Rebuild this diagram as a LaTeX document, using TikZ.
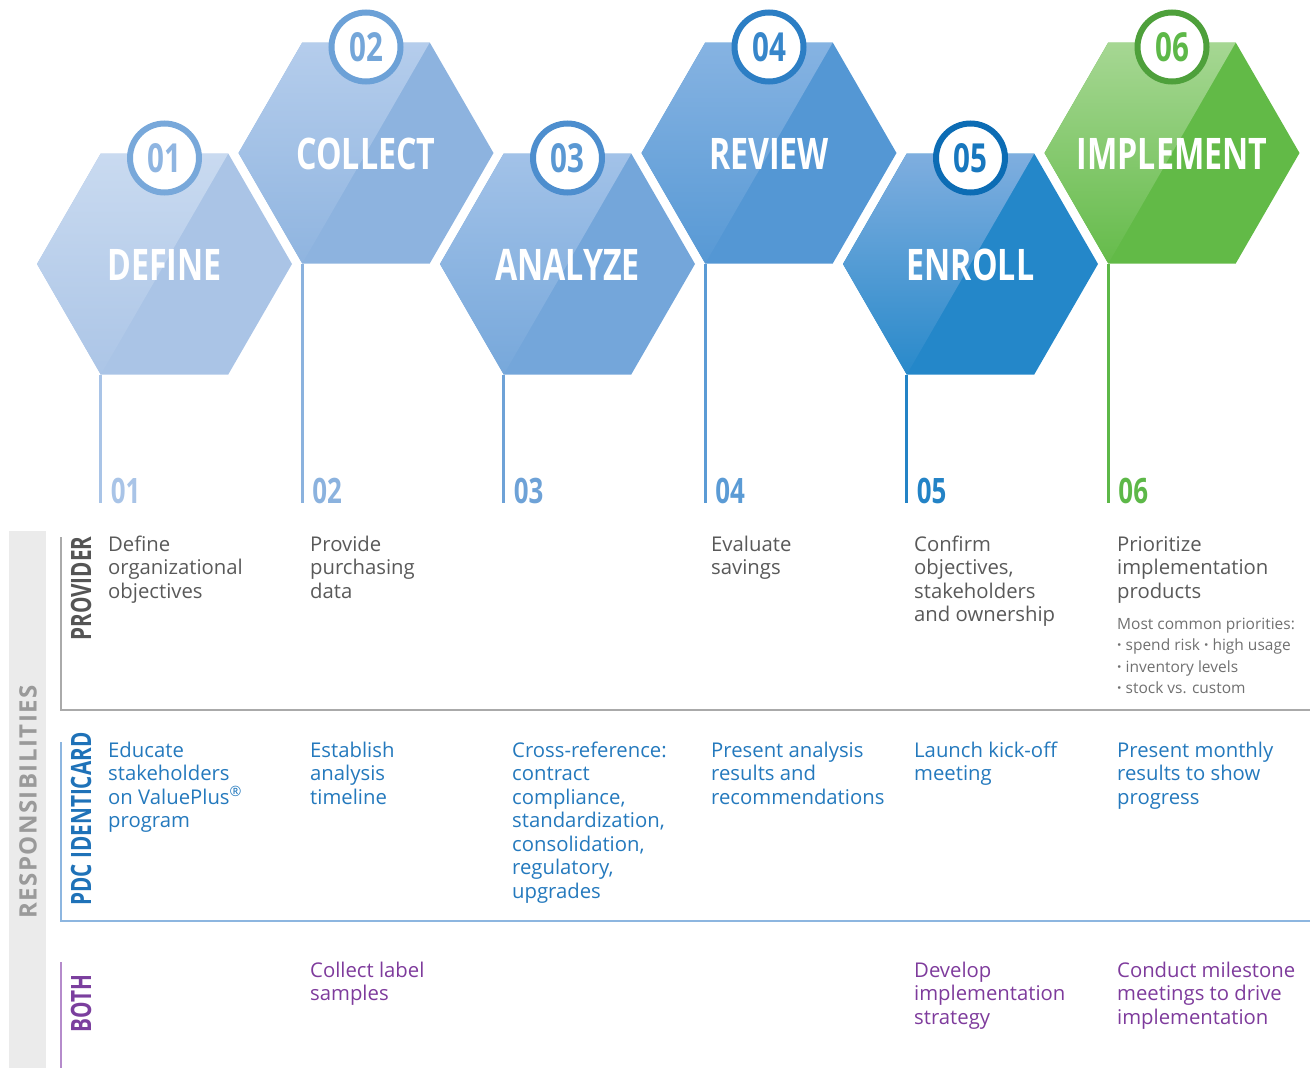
\documentclass[tikz,border=0pt]{standalone}
\usepackage{fontspec}
\setmainfont{Open Sans}
\newfontfamily\condb{Open Sans}[FakeStretch=0.74]
\newfontfamily\spacedf{Open Sans}[LetterSpace=6]
\definecolor{baseA}{HTML}{AAC4E6}\definecolor{hlA}{HTML}{C9DAF0}
\definecolor{baseB}{HTML}{8DB3DF}\definecolor{hlB}{HTML}{B5CDEC}
\definecolor{baseC}{HTML}{74A6DA}\definecolor{hlC}{HTML}{A2C2E8}
\definecolor{baseD}{HTML}{5497D4}\definecolor{hlD}{HTML}{86B3E2}
\definecolor{baseE}{HTML}{2487C9}\definecolor{hlE}{HTML}{7FAEDF}
\definecolor{baseF}{HTML}{62BA47}\definecolor{hlF}{HTML}{A6D793}
\definecolor{ringA}{HTML}{78A8DA}\definecolor{digA}{HTML}{8FB5E1}
\definecolor{ringB}{HTML}{6CA1D7}\definecolor{digB}{HTML}{74A6D9}
\definecolor{ringC}{HTML}{4D8ECE}\definecolor{digC}{HTML}{5A98D3}
\definecolor{ringD}{HTML}{2C7EC4}\definecolor{digD}{HTML}{3786CA}
\definecolor{ringE}{HTML}{0C6CB4}\definecolor{digE}{HTML}{1777BE}
\definecolor{ringF}{HTML}{4EA03B}\definecolor{digF}{HTML}{5DB848}
\definecolor{lineA}{HTML}{A9C4E7}\definecolor{lineB}{HTML}{8BB2DE}
\definecolor{lineC}{HTML}{6EA2D7}\definecolor{lineD}{HTML}{5B9BD5}
\definecolor{lineE}{HTML}{2383C6}\definecolor{lineF}{HTML}{5DB848}
\definecolor{txtgray}{HTML}{595959}
\definecolor{txtsmall}{HTML}{707070}
\definecolor{txtblue}{HTML}{2479BD}
\definecolor{txtpurple}{HTML}{7E3B9C}
\definecolor{bandgray}{HTML}{EBEBEB}
\definecolor{respgray}{HTML}{9A9A9A}
\definecolor{provline}{HTML}{AAAAAA}
\definecolor{pdcline}{HTML}{8DB6E0}
\definecolor{bothline}{HTML}{B58BCB}
\definecolor{provlab}{HTML}{555555}
\definecolor{pdclab}{HTML}{1F72B8}
\definecolor{bothlab}{HTML}{7B3F9E}
\tikzset{
  hexlabel/.style={text=white, font=\condb\bfseries\fontsize{43.5}{43.5}\selectfont, inner sep=0},
  numcircle/.style={circle, fill=white, line width=6pt, minimum size=69pt, inner sep=0,
     font=\condb\bfseries\fontsize{40}{40}\selectfont},
  numlabel/.style={anchor=base west, inner sep=0, font=\condb\bfseries\fontsize{35}{35}\selectfont},
  steplink/.style={line width=3pt},
  cell/.style={anchor=base west, inner sep=0, font=\fontsize{20.3}{23.5}\selectfont},
  smallcell/.style={anchor=base west, inner sep=0, font=\fontsize{15.5}{21.3}\selectfont, text=txtsmall},
  rowlabel/.style={rotate=90, inner sep=0, font=\condb\bfseries\fontsize{28}{28}\selectfont},
}
\newcommand\hexstep[9]{%
  \fill[#4] ({#2-127.5},#3) -- ({#2-63.75},{#3-110.5}) -- ({#2+63.75},{#3-110.5}) -- ({#2+127.5},#3)
     -- ({#2+63.75},{#3+110.5}) -- ({#2-63.75},{#3+110.5}) -- cycle;
  \shade[top color=#5, bottom color=#4!98!white] ({#2-63.75},{#3-110.5}) -- ({#2+63.75},{#3-110.5})
     -- ({#2-63.75},{#3+110.5}) -- ({#2-127.5},#3) -- cycle;
  \node[hexlabel] (hex#1) at (#2,{#3+1}) {#9};
  \node[numcircle, draw=#6, text=#7] (circ#1) at (#2,{#3-106}) {0#1};
  \coordinate (top#1) at ({#2-63.75},{#3+110.5});
  \coordinate (bot#1) at ({#2-63.75},503);
  \draw[steplink, #8] (top#1) -- (bot#1);
  \node[numlabel, text=#8] (num#1) at ({#2-53.75},503) {0#1};
}
\newcommand\cellbox[1]{\parbox[t]{200pt}{\raggedright #1}}
\newcommand\bul{{\bfseries\textperiodcentered}}
\begin{document}
\begin{tikzpicture}[x=1pt,y=-1pt]
\useasboundingbox (0,0) rectangle (1310,1068);
\hexstep{1}{164.5}{264}{baseA}{hlA}{ringA}{digA}{lineA}{DEFINE}
\hexstep{2}{366}{153}{baseB}{hlB}{ringB}{digB}{lineB}{COLLECT}
\hexstep{3}{567.5}{264}{baseC}{hlC}{ringC}{digC}{lineC}{ANALYZE}
\hexstep{4}{769}{153}{baseD}{hlD}{ringD}{digD}{lineD}{REVIEW}
\hexstep{5}{970.5}{264}{baseE}{hlE}{ringE}{digE}{lineE}{ENROLL}
\hexstep{6}{1172}{153}{baseF}{hlF}{ringF}{digF}{lineF}{IMPLEMENT}

% left band
\fill[bandgray] (9,531) rectangle (46,1068);
\node[rotate=90, inner sep=0, text=respgray, font=\spacedf\bfseries\fontsize{24}{24}\selectfont] (resp) at (28,802) {RESPONSIBILITIES};

% section frames
\coordinate (pv1) at (61,537); \coordinate (pv2) at (61,710); \coordinate (pv3) at (1310,710);
\draw[provline, line width=1.5pt] (pv1) -- (pv2) -- (pv3);
\coordinate (pd1) at (61,742); \coordinate (pd2) at (61,921); \coordinate (pd3) at (1310,921);
\draw[pdcline, line width=1.5pt] (pd1) -- (pd2) -- (pd3);
\coordinate (bo1) at (61,962); \coordinate (bo2) at (61,1068);
\draw[bothline, line width=1.5pt] (bo1) -- (bo2);

\node[rowlabel, text=provlab] (provlabel) at (81,588.5) {PROVIDER};
\node[rowlabel, text=pdclab] (pdclabel) at (81,819) {PDC IDENTICARD};
\node[rowlabel, text=bothlab] (bothlabel) at (81,1003.5) {BOTH};

% provider row
\node[cell, text=txtgray] (p1) at (108,551) {\cellbox{Define\\organizational\\objectives}};
\node[cell, text=txtgray] (p2) at (310,551) {\cellbox{Provide\\purchasing\\data}};
\node[cell, text=txtgray] (p4) at (711,551) {\cellbox{Evaluate\\savings}};
\node[cell, text=txtgray] (p5) at (914,551) {\cellbox{Confirm\\objectives,\\stakeholders\\and ownership}};
\node[cell, text=txtgray] (p6) at (1117,551) {\cellbox{Prioritize\\implementation\\products}};
\node[smallcell] (p6b) at (1117,629.5) {\parbox[t]{200pt}{\raggedright Most common priorities:\\\bul\ spend risk \bul\ high usage\\\bul\ inventory levels\\\bul\ stock vs. custom}};

% pdc row
\node[cell, text=txtblue] (d1) at (108,757) {\cellbox{Educate\\stakeholders\\on ValuePlus\textsuperscript{®}\\program}};
\node[cell, text=txtblue] (d2) at (310,757) {\cellbox{Establish\\analysis\\timeline}};
\node[cell, text=txtblue] (d3) at (512,757) {\cellbox{Cross-reference:\\contract\\compliance,\\standardization,\\consolidation,\\regulatory,\\upgrades}};
\node[cell, text=txtblue] (d4) at (711,757) {\cellbox{Present analysis\\results and\\recommendations}};
\node[cell, text=txtblue] (d5) at (914,757) {\cellbox{Launch kick-off\\meeting}};
\node[cell, text=txtblue] (d6) at (1117,757) {\cellbox{Present monthly\\results to show\\progress}};

% both row
\node[cell, text=txtpurple] (b2) at (310,977) {\cellbox{Collect label\\samples}};
\node[cell, text=txtpurple] (b5) at (914,977) {\cellbox{Develop\\implementation\\strategy}};
\node[cell, text=txtpurple] (b6) at (1117,977) {\cellbox{Conduct milestone\\meetings to drive\\implementation}};
\end{tikzpicture}
\end{document}
